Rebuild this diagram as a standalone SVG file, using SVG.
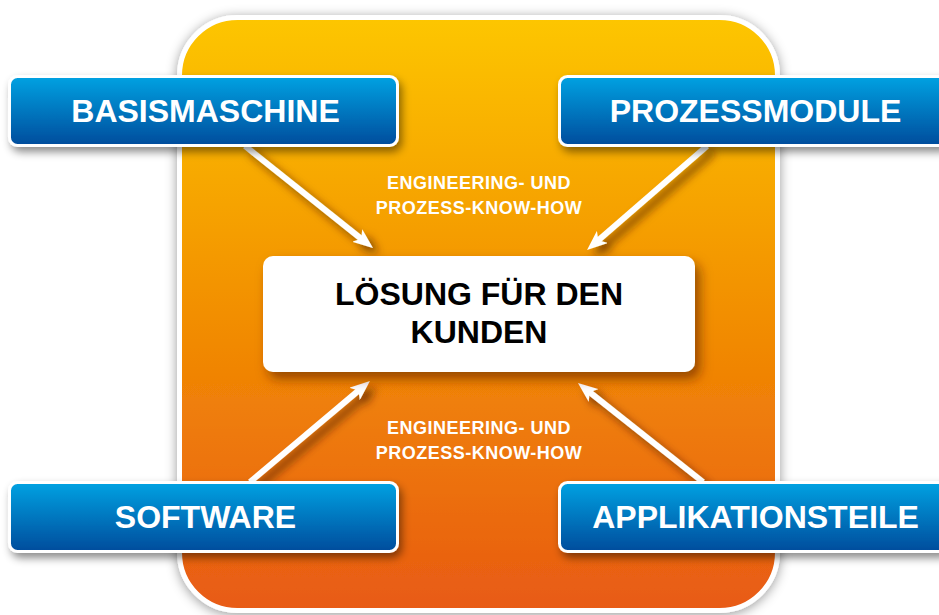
<svg xmlns="http://www.w3.org/2000/svg" width="939" height="615" viewBox="0 0 939 615">
  <defs>
    <linearGradient id="panelGrad" x1="0" y1="0" x2="0" y2="1">
      <stop offset="0" stop-color="#FDC600"/>
      <stop offset="0.45" stop-color="#F39400"/>
      <stop offset="1" stop-color="#E85A14"/>
    </linearGradient>
    <linearGradient id="blueGrad" x1="0" y1="0" x2="0" y2="1">
      <stop offset="0" stop-color="#04A2E2"/>
      <stop offset="1" stop-color="#004C9C"/>
    </linearGradient>
    <filter id="panelShadow" x="-10%" y="-10%" width="120%" height="120%">
      <feDropShadow dx="0" dy="2" stdDeviation="6" flood-color="#000" flood-opacity="0.4"/>
    </filter>
    <filter id="boxShadow" x="-10%" y="-20%" width="125%" height="160%">
      <feDropShadow dx="3" dy="5" stdDeviation="4" flood-color="#000" flood-opacity="0.45"/>
    </filter>
    <filter id="centerShadow" x="-10%" y="-20%" width="125%" height="160%">
      <feDropShadow dx="5" dy="7" stdDeviation="6" flood-color="#5a2200" flood-opacity="0.6"/>
    </filter>
    <filter id="arrowShadow" x="-20%" y="-20%" width="150%" height="150%">
      <feDropShadow dx="6" dy="6" stdDeviation="4" flood-color="#4a1a00" flood-opacity="0.7"/>
    </filter>
    <marker id="head" viewBox="0 0 20 16" refX="10" refY="8" markerWidth="20" markerHeight="16" markerUnits="userSpaceOnUse" orient="auto">
      <path d="M0,0 L20,8 L0,16 L5,8 Z" fill="#fff"/>
    </marker>
    <style>
      .blue { fill: url(#blueGrad); stroke: #fff; stroke-width: 3; filter: url(#boxShadow); }
      .blueText { font-family: "Liberation Sans", Arial, sans-serif; font-weight: bold; font-size: 32px; fill: #fff; text-anchor: middle; }
      .centerText { font-family: "Liberation Sans", Arial, sans-serif; font-weight: bold; font-size: 32px; fill: #000; text-anchor: middle; }
      .small { font-family: "Liberation Sans", Arial, sans-serif; font-weight: bold; font-size: 18px; fill: #fff; text-anchor: middle; letter-spacing: 0.5px; }
      .arrow { fill: none; stroke: #fff; stroke-width: 6; marker-end: url(#head); }
    </style>
  </defs>

  <rect width="939" height="615" fill="#fff"/>

  <g id="panel">
    <rect x="179.5" y="17.5" width="598" height="593" rx="58" fill="url(#panelGrad)" stroke="#fff" stroke-width="5" filter="url(#panelShadow)"/>
  </g>

  <g id="labels">
    <text class="small" x="479" y="189">ENGINEERING- UND</text>
    <text class="small" x="479" y="214">PROZESS-KNOW-HOW</text>
    <text class="small" x="479" y="434">ENGINEERING- UND</text>
    <text class="small" x="479" y="459">PROZESS-KNOW-HOW</text>
  </g>

  <g id="connectors" filter="url(#arrowShadow)">
    <path class="arrow" d="M245,146 L365.1,241.8"/>
    <path class="arrow" d="M707,146 L594.6,243.5"/>
    <path class="arrow" d="M250,482 L362.3,387.4"/>
    <path class="arrow" d="M703,482 L585.8,389.2"/>
  </g>

  <g id="loesung">
    <rect x="263" y="256" width="432" height="116" rx="10" fill="#fff" filter="url(#centerShadow)"/>
    <text class="centerText" x="479" y="305">LÖSUNG FÜR DEN</text>
    <text class="centerText" x="479" y="343">KUNDEN</text>
  </g>

  <g id="basismaschine">
    <rect class="blue" x="9.5" y="76.5" width="388" height="69" rx="8"/>
    <text class="blueText" x="205.5" y="122">BASISMASCHINE</text>
  </g>

  <g id="prozessmodule">
    <rect class="blue" x="559.5" y="76.5" width="388" height="69" rx="8"/>
    <text class="blueText" x="755.5" y="122">PROZESSMODULE</text>
  </g>

  <g id="software">
    <rect class="blue" x="9.5" y="482.5" width="388" height="69" rx="8"/>
    <text class="blueText" x="205.5" y="528">SOFTWARE</text>
  </g>

  <g id="applikationsteile">
    <rect class="blue" x="559.5" y="482.5" width="388" height="69" rx="8"/>
    <text class="blueText" x="755.5" y="528">APPLIKATIONSTEILE</text>
  </g>
</svg>
